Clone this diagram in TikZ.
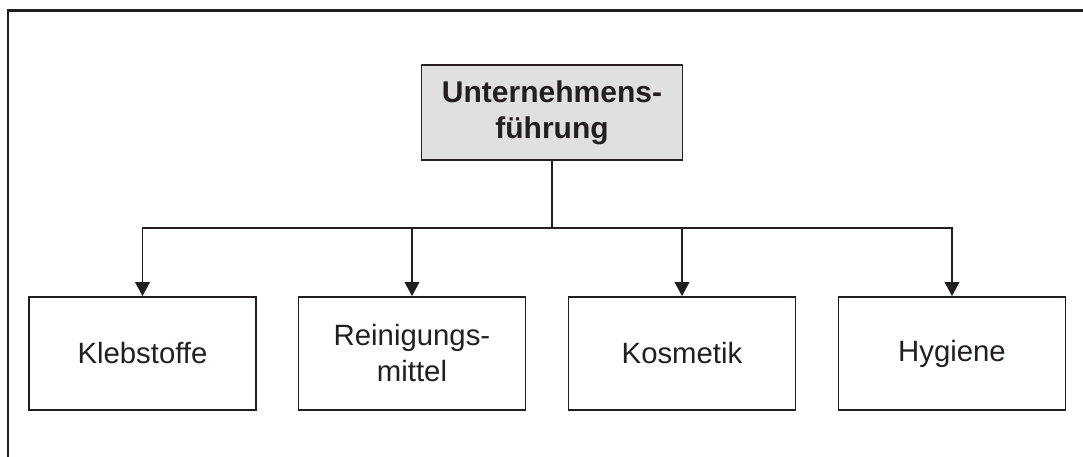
\documentclass[tikz,border=0pt]{standalone}
\usepackage{fontspec}
\setmainfont{Liberation Sans}
\usetikzlibrary{arrows.meta}
\definecolor{ink}{HTML}{231F20}
\definecolor{headfill}{HTML}{E0E0E0}
\begin{document}
\begin{tikzpicture}[x=0.75pt,y=-0.75pt,
  unitbox/.style={draw=ink, line width=1.1pt, fill=white, minimum width=170pt,
    minimum height=85pt, inner sep=0pt, align=center, text=ink,
    font=\fontsize{22}{27}\selectfont},
  headbox/.style={draw=ink, line width=1.1pt, fill=headfill, minimum width=196pt,
    minimum height=71pt, inner sep=0pt, align=center, text=ink,
    font=\fontsize{22.5}{27}\selectfont\bfseries},
  link/.style={draw=ink, line width=1.1pt, -{Triangle[width=11pt,length=10.5pt]}},
  trunk/.style={draw=ink, line width=2.2pt}]
  \useasboundingbox (0,0) rectangle (1083,457);
  % open frame: top and left edges
  \draw[ink, line width=1.6pt] (8,457) -- (8,10.5) -- (1083,10.5);
  % management box
  \node[headbox] (head) at (552,112.5) {Unternehmens-\\führung};
  % divisions
  \node[unitbox] (k1) at (142.5,353.5) {Klebstoffe};
  \node[unitbox] (k2) at (412,353.5) {Reinigungs-\\mittel};
  \node[unitbox] (k3) at (682,353.5) {Kosmetik};
  \node[unitbox] (k4) at (952,353.5) {Hygiene};
  % connectors
  \coordinate (bus) at (552,228);
  \draw[trunk] (head.south) -- (bus);
  \draw[link] (bus) -| (k1.north);
  \draw[link] (bus) -| (k2.north);
  \draw[link] (bus) -| (k3.north);
  \draw[link] (bus) -| (k4.north);
\end{tikzpicture}
\end{document}
